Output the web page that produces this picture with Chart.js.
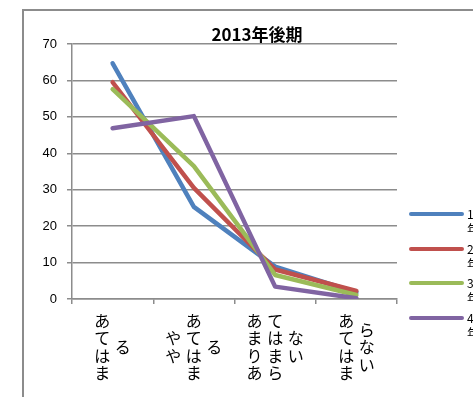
<!DOCTYPE html>
<html>
<head>
<meta charset="utf-8">
<script src="https://cdn.jsdelivr.net/npm/chart.js@4"></script>
<style>
html,body{margin:0;padding:0;background:#fff;overflow:hidden;}
#wrap{position:relative;width:473px;height:397px;}
#frame{position:absolute;left:22px;top:9px;width:460px;height:400px;border-left:2px solid #8c8c8c;border-top:2px solid #8c8c8c;pointer-events:none;}
canvas{position:absolute;left:0;top:0;}
</style>
</head>
<body>
<div id="wrap">
<div id="frame"></div>
<canvas id="c" width="473" height="397"></canvas>
</div>
<script>
const chartTitle = "2013年後期";
const categories = ["あてはまる", "やや\nあてはまる", "あまりあてはまらない", "あてはまらない"];
const seriesNames = ["1\n年", "2\n年", "3\n年", "4\n年"];
const s1 = [64.7, 25.3, 8.9, 1.8];
const s2 = [59.5, 30.5, 8.1, 2.2];
const s3 = [57.6, 36.5, 6.6, 1.1];
const s4 = [46.9, 50.2, 3.4, 0.2];
const yTicks = [0, 10, 20, 30, 40, 50, 60, 70];
const colors = ["#4F81BD", "#C0504D", "#9BBB59", "#8064A2"];

const allSeries = [s1, s2, s3, s4];

const extras = {
  id: 'extras',
  afterDraw(chart) {
    const ctx = chart.ctx;
    const xs = chart.scales.x;
    ctx.save();
    // title
    ctx.fillStyle = '#000';
    ctx.font = 'bold 17px "Noto Sans CJK JP", sans-serif';
    ctx.textAlign = 'center';
    ctx.textBaseline = 'middle';
    ctx.fillText(chartTitle, 257, 35);
    // vertical category labels
    ctx.font = '16px "Noto Sans CJK JP", sans-serif';
    categories.forEach((lab, i) => {
      const cols = [];
      lab.split('\n').forEach(seg => {
        for (let k = 0; k < seg.length; k += 4) cols.push(seg.slice(k, k + 4));
      });
      const cx = xs.getPixelForValue(i);
      const n = cols.length;
      cols.forEach((col, j) => {
        const x = cx + (j - (n - 1) / 2) * 20.5;
        const step = 17.5;
        const y0 = 347 - (col.length - 1) / 2 * step;
        for (let m = 0; m < col.length; m++) {
          ctx.fillText(col[m], x, y0 + m * step);
        }
      });
    });
    // legend
    const ly = [214, 249, 283, 318];
    seriesNames.forEach((nm, i) => {
      ctx.strokeStyle = colors[i];
      ctx.lineWidth = 4;
      ctx.lineCap = 'round';
      ctx.beginPath();
      ctx.moveTo(411, ly[i]);
      ctx.lineTo(462, ly[i]);
      ctx.stroke();
      ctx.fillStyle = '#000';
      ctx.font = '12px "Noto Sans CJK JP", sans-serif';
      ctx.textAlign = 'left';
      const parts = nm.split('\n');
      parts.forEach((p, k) => ctx.fillText(p, 467, ly[i] + k * 15));
    });
    ctx.restore();
  }
};

new Chart(document.getElementById('c'), {
  type: 'line',
  data: {
    labels: categories,
    datasets: allSeries.map((d, i) => ({
      label: seriesNames[i].replace('\n', ''),
      data: d,
      borderColor: colors[i],
      backgroundColor: colors[i],
      borderWidth: 4.5,
      pointRadius: 0,
      tension: 0,
      borderCapStyle: 'round',
      borderJoinStyle: 'round',
      order: 4 - i
    }))
  },
  options: {
    responsive: false,
    animation: false,
    layout: { padding: { top: 44, right: 76, left: 0, bottom: 0 } },
    plugins: { legend: { display: false }, title: { display: false }, tooltip: { enabled: false } },
    scales: {
      x: {
        type: 'category',
        offset: true,
        afterFit(s) { s.height = 98; },
        grid: { offset: true, drawOnChartArea: false, drawTicks: true, tickLength: 5, color: '#8c8c8c', lineWidth: 1.5 },
        border: { color: '#8c8c8c', width: 1.5 },
        ticks: { display: false }
      },
      y: {
        min: 0, max: 70,
        afterFit(s) { s.width = 72; },
        afterBuildTicks(s) { s.ticks = yTicks.map(v => ({ value: v })); },
        grid: { color: '#8c8c8c', lineWidth: 1.5, tickLength: 5 },
        border: { color: '#8c8c8c', width: 1.5 },
        ticks: { color: '#000', padding: 10, font: { family: '"Liberation Sans", sans-serif', size: 13 } }
      }
    }
  },
  plugins: [extras]
});
</script>
</body>
</html>
